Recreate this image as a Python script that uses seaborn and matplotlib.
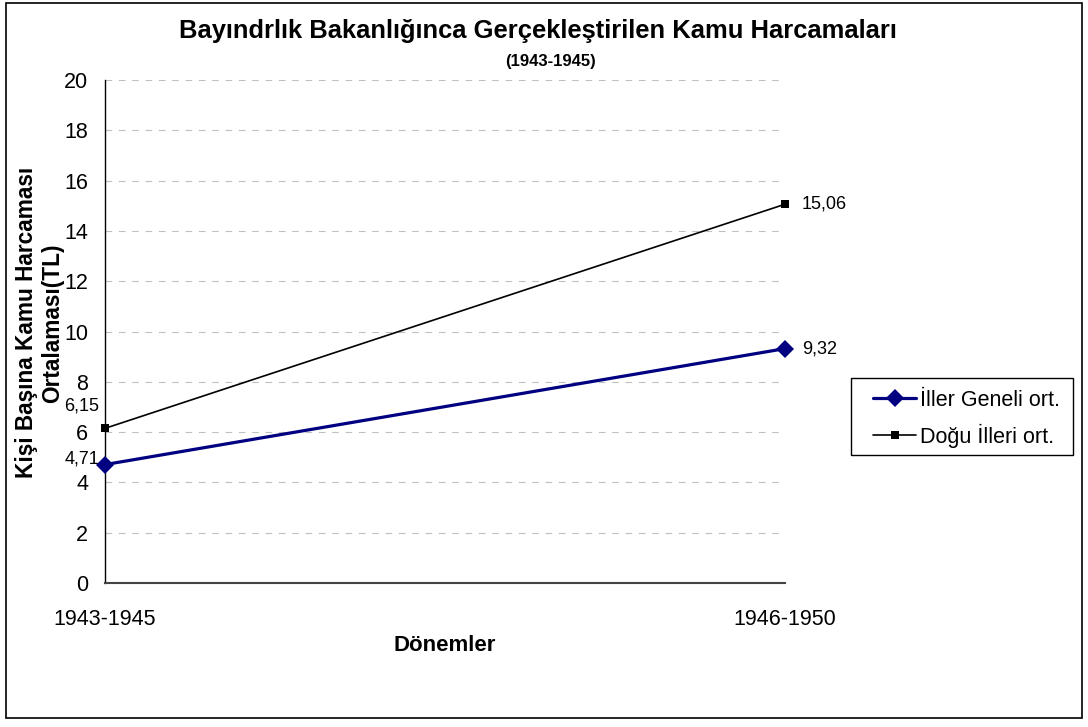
import pandas as pd
import seaborn as sns
import matplotlib.pyplot as plt
from matplotlib.patches import Rectangle

# Veriler
donemler = ["1943-1945", "1946-1950"]
iller_geneli = [4.71, 9.32]
dogu_illeri = [6.15, 15.06]
etiket_iller = ["4,71", "9,32"]
etiket_dogu = ["6,15", "15,06"]
y_ticks = [0, 2, 4, 6, 8, 10, 12, 14, 16, 18, 20]

df_iller = pd.DataFrame({"Dönem": donemler, "Değer": iller_geneli})
df_dogu = pd.DataFrame({"Dönem": donemler, "Değer": dogu_illeri})

sns.set_style("white")
plt.rcParams['font.family'] = ['Liberation Sans', 'DejaVu Sans']
plt.rcParams['text.color'] = 'black'
plt.rcParams['axes.labelcolor'] = 'black'

fig = plt.figure(figsize=(10.88, 7.27), dpi=100)
ax = fig.add_axes([0.0965, 0.198, 0.625, 0.692])

sns.lineplot(data=df_iller, x="Dönem", y="Değer", ax=ax, color="#000080",
             linewidth=2.3, marker="D", markersize=9, markeredgewidth=0,
             label="İller Geneli ort.", clip_on=False, zorder=5)
sns.lineplot(data=df_dogu, x="Dönem", y="Değer", ax=ax, color="black",
             linewidth=1.2, marker="s", markersize=5.5, markeredgewidth=0,
             label="Doğu İlleri ort.", clip_on=False, zorder=5)

# Veri etiketleri
ax.annotate(etiket_dogu[0], (0, dogu_illeri[0]), xytext=(-4, 16), textcoords="offset points",
            ha="right", va="center", fontsize=13)
ax.annotate(etiket_iller[0], (0, iller_geneli[0]), xytext=(-4, 4), textcoords="offset points",
            ha="right", va="center", fontsize=13)
ax.annotate(etiket_dogu[1], (1, dogu_illeri[1]), xytext=(12, 0), textcoords="offset points",
            ha="left", va="center", fontsize=13)
ax.annotate(etiket_iller[1], (1, iller_geneli[1]), xytext=(12, 0), textcoords="offset points",
            ha="left", va="center", fontsize=13)

ax.set_xlim(0, 1)
ax.set_ylim(0, 20)
ax.set_yticks(y_ticks)
ax.set_xticks([0, 1])
ax.set_xticklabels(donemler)
ax.tick_params(axis="both", labelsize=15.5, direction="out", length=5, width=1, colors="black")
ax.tick_params(axis="x", pad=14)
ax.tick_params(axis="y", pad=7)
ax.yaxis.grid(True, color="#c0c0c0", linestyle=(0, (6, 6)), linewidth=0.8)
ax.xaxis.grid(False)
for s in ["top", "right"]:
    ax.spines[s].set_visible(False)
ax.spines["left"].set_color("black")
ax.spines["bottom"].set_color("#444444")
ax.spines["left"].set_linewidth(1)
ax.spines["bottom"].set_linewidth(1.5)

ax.set_xlabel("Dönemler", fontsize=16, fontweight="bold", labelpad=3)
ax.set_ylabel("")
fig.text(0.0362, 0.556, "Kişi Başına Kamu Harcaması\nOrtalaması(TL)", rotation=90,
         ha="center", va="center", fontsize=16.3, fontweight="bold", linespacing=1.2)

fig.text(0.494, 0.958, "Bayındrlık Bakanlığınca Gerçekleştirilen Kamu Harcamaları",
         ha="center", va="center", fontsize=18.4, fontweight="bold")
fig.text(0.506, 0.916, "(1943-1945)", ha="center", va="center", fontsize=12, fontweight="bold")

ax.get_legend().remove()
handles, labels = ax.get_legend_handles_labels()
leg = fig.legend(handles, labels, loc="center left", bbox_to_anchor=(873 / 1088, 0.424),
                 fontsize=15.5, frameon=False, borderaxespad=0, borderpad=0,
                 handlelength=2.0, handletextpad=0.2, labelspacing=0.6)

# Lejant çerçevesi ve dış çerçeve
fig.patches.append(Rectangle((851 / 1088, 1 - 455 / 727), 222 / 1088, 77 / 727,
                             transform=fig.transFigure, fill=False,
                             edgecolor="black", linewidth=1))
fig.patches.append(Rectangle((6 / 1088, 1 - 718 / 727), 1076 / 1088, 715 / 727,
                             transform=fig.transFigure, fill=False,
                             edgecolor="black", linewidth=1.2))

fig.savefig("out.png", dpi=100)
